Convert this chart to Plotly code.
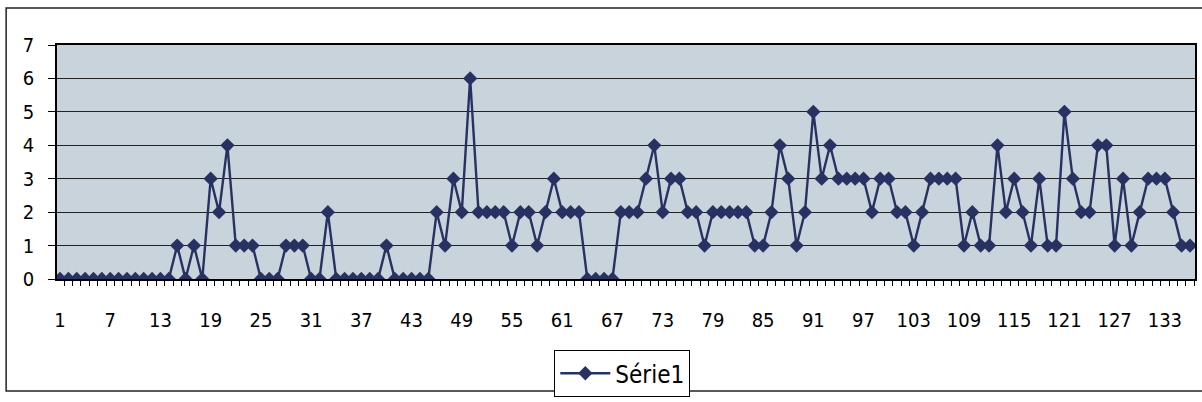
import plotly.graph_objects as go

# Daily counts, one value per category 1..136
categories = list(range(1, 137))
serie1 = [
    0, 0, 0, 0, 0, 0, 0, 0, 0, 0, 0, 0, 0, 0,      # 1-14
    1, 0, 1, 0, 3, 2, 4, 1, 1, 1, 0, 0, 0, 1, 1, 1,  # 15-30
    0, 0, 2, 0, 0, 0, 0, 0, 0, 1, 0, 0, 0, 0, 0,     # 31-45
    2, 1, 3, 2, 6, 2, 2, 2, 2, 1, 2, 2, 1, 2, 3,     # 46-60
    2, 2, 2, 0, 0, 0, 0, 2, 2, 2, 3, 4, 2, 3, 3,     # 61-75
    2, 2, 1, 2, 2, 2, 2, 2, 1, 1, 2, 4, 3, 1, 2,     # 76-90
    5, 3, 4, 3, 3, 3, 3, 2, 3, 3, 2, 2, 1, 2, 3,     # 91-105
    3, 3, 3, 1, 2, 1, 1, 4, 2, 3, 2, 1, 3, 1, 1,     # 106-120
    5, 3, 2, 2, 4, 4, 1, 3, 1, 2, 3, 3, 3, 2, 1, 1,  # 121-136
]
x_tick_labels = [str(v) for v in range(1, 137, 6)]
y_ticks = list(range(0, 8))

FONT = "DejaVu Sans Condensed, DejaVu Sans, sans-serif"
NAVY = "#283262"
TICK_FONT = dict(family=FONT, size=20, color="black")

fig = go.Figure()
fig.add_trace(go.Scatter(
    x=categories,
    y=serie1,
    mode="lines+markers",
    name="Série1",
    line=dict(color=NAVY, width=2.4),
    marker=dict(symbol="diamond", size=11, color=NAVY),
))

# Outer chart frame
fig.add_shape(
    type="rect", xref="paper", yref="paper",
    x0=-0.0447, x1=1.01, y0=-0.479, y1=1.158,
    line=dict(color="#222222", width=1.5),
    fillcolor="rgba(0,0,0,0)", layer="below",
)

fig.update_layout(
    width=1202, height=402,
    margin=dict(l=57, r=5, t=45, b=117),
    paper_bgcolor="white",
    plot_bgcolor="#c8d3db",
    font=dict(family=FONT, size=20, color="black"),
    showlegend=True,
    legend=dict(
        x=0.437, y=-0.304, xanchor="left", yanchor="top",
        bordercolor="black", borderwidth=1, bgcolor="white",
        font=dict(family=FONT, size=24, color="black"),
        itemwidth=50,
    ),
    xaxis=dict(
        range=[0.64, 136.6],
        tickmode="array",
        tickvals=list(range(1, 137, 6)),
        ticktext=x_tick_labels,
        tickfont=TICK_FONT,
        ticks="",
        ticklabelstandoff=22,
        showgrid=False,
        zeroline=False,
        showline=True, linecolor="black", linewidth=1.5, mirror=True,
        minor=dict(ticks="outside", tick0=0.5, dtick=1, ticklen=5,
                   tickcolor="black", tickwidth=1, showgrid=False),
    ),
    yaxis=dict(
        range=[0, 7],
        tickmode="array",
        tickvals=y_ticks,
        tickfont=TICK_FONT,
        ticks="outside", ticklen=7, tickcolor="black",
        ticklabelstandoff=10,
        showgrid=True, gridcolor="#222222", gridwidth=1,
        zeroline=False,
        showline=True, linecolor="black", linewidth=1.5, mirror=True,
    ),
)

fig.write_html("out.html")
